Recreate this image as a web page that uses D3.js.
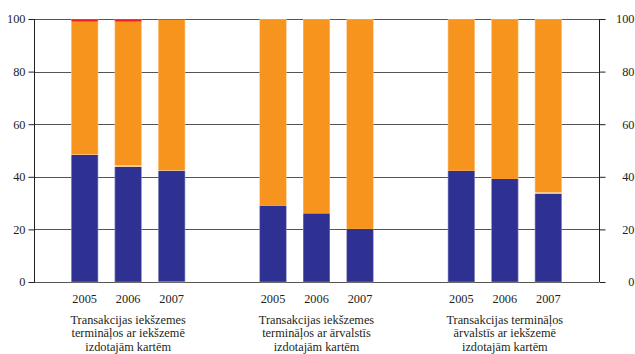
<!DOCTYPE html>
<html><head><meta charset="utf-8">
<script src="https://cdn.jsdelivr.net/npm/d3@7"></script>
<style>body{margin:0;background:#fff}svg{display:block}</style>
</head><body>
<svg id="c" width="635" height="354"></svg>
<script>
const groups = [
  ["Transakcijas iekšzemes", "termināļos ar iekšzemē", "izdotajām kartēm"],
  ["Transakcijas iekšzemes", "termināļos ar ārvalstīs", "izdotajām kartēm"],
  ["Transakcijas termināļos", "ārvalstīs ar iekšzemē", "izdotajām kartēm"]
];
const years = ["2005", "2006", "2007"];
// values per group, per year (percent)
const seriesBottom = [[0, 0, 0.3], [0, 0, 0], [0, 0, 0]];
const seriesBlue   = [[48.3, 43.8, 42.0], [29.0, 26.1, 20.2], [42.3, 39.2, 33.6]];
const seriesPale   = [[0.2, 0.6, 0.2], [0, 0, 0], [0, 0, 0.6]];
const seriesRed    = [[1.0, 1.0, 0.3], [0, 0, 0], [0, 0, 0]];
const yTicks = [0, 20, 40, 60, 80, 100];

const seriesList = [
  {vals: seriesBottom, color: "#c2185b"},
  {vals: seriesBlue, color: "#2e3192"},
  {vals: seriesPale, color: "#fbc98e"},
  {vals: null, color: "#f7941d"},
  {vals: seriesRed, color: "#ed1c24"}
];

const FONT = "'Liberation Serif'";
const FS = "12.3px";
const TXT = "#231f20";
const svg = d3.select("#c");
const x0 = 34, x1 = 599, yTop = 19, yBot = 282;
const y = d3.scaleLinear().domain([0, 100]).range([yBot, yTop]);
const gx = d3.scaleBand().domain(d3.range(groups.length)).range([x0, x1]);
const bx = d3.scaleBand().domain(years).range([0, 130.5]).paddingInner(0.38).paddingOuter(0.19);

function txt(sel) {
  return sel.style("font-family", FONT).style("font-size", FS).attr("fill", TXT);
}

// gridlines
svg.append("g").selectAll("line").data(yTicks).join("line")
  .attr("x1", x0).attr("x2", x1)
  .attr("y1", d => Math.round(y(d)) + 0.5).attr("y2", d => Math.round(y(d)) + 0.5)
  .attr("stroke", "#555").attr("stroke-width", 1.1);

// bars
groups.forEach((g, gi) => {
  const gc = gx(gi) + gx.bandwidth() / 2;
  const off = gc - 65.25;
  years.forEach((yr, yi) => {
    let cum = 0;
    seriesList.forEach(s => {
      let v;
      if (s.vals) v = s.vals[gi][yi];
      else {
        const others = seriesList.filter(t => t.vals).reduce((a, t) => a + t.vals[gi][yi], 0);
        v = 100 - others;
      }
      if (v <= 0) return;
      svg.append("rect")
        .attr("x", off + bx(yr)).attr("width", bx.bandwidth())
        .attr("y", y(cum + v)).attr("height", y(cum) - y(cum + v))
        .attr("fill", s.color);
      cum += v;
    });
    svg.append("rect")
      .attr("x", off + bx(yr) + 0.25).attr("width", bx.bandwidth() - 0.5)
      .attr("y", y(100)).attr("height", y(0) - y(100))
      .attr("fill", "none").attr("stroke", "#fff").attr("stroke-opacity", 0.45).attr("stroke-width", 0.6);
    txt(svg.append("text")).attr("x", off + bx(yr) + bx.bandwidth() / 2).attr("y", 302.5)
      .attr("text-anchor", "middle").text(yr);
  });
  g.forEach((line, li) => {
    txt(svg.append("text")).attr("x", gc).attr("y", 323.5 + li * 13.8)
      .attr("text-anchor", "middle").text(line);
  });
});

// left axis
const la = svg.append("g").attr("transform", `translate(${x0 + 0.5},0)`)
  .call(d3.axisLeft(y).tickValues(yTicks).tickSize(6).tickPadding(3));
// right axis
const ra = svg.append("g").attr("transform", `translate(${x1 + 0.5},0)`)
  .call(d3.axisRight(y).tickValues(yTicks).tickSize(6).tickFormat(""));
[la, ra].forEach(a => {
  a.attr("font-family", null).attr("font-size", null);
  a.select(".domain").attr("stroke", TXT).attr("d", `M0,${yTop}V${yBot}`);
  a.selectAll(".tick line").attr("stroke", TXT);
});
txt(la.selectAll(".tick text")).attr("x", -9);
// right tick labels, right-aligned to the page edge
ra.selectAll(".tick").each(function(d) {
  txt(d3.select(this).append("text")).attr("x", 634.5 - x1 - 0.5).attr("dy", "0.32em")
    .attr("text-anchor", "end").text(d);
});
</script>
</body></html>
